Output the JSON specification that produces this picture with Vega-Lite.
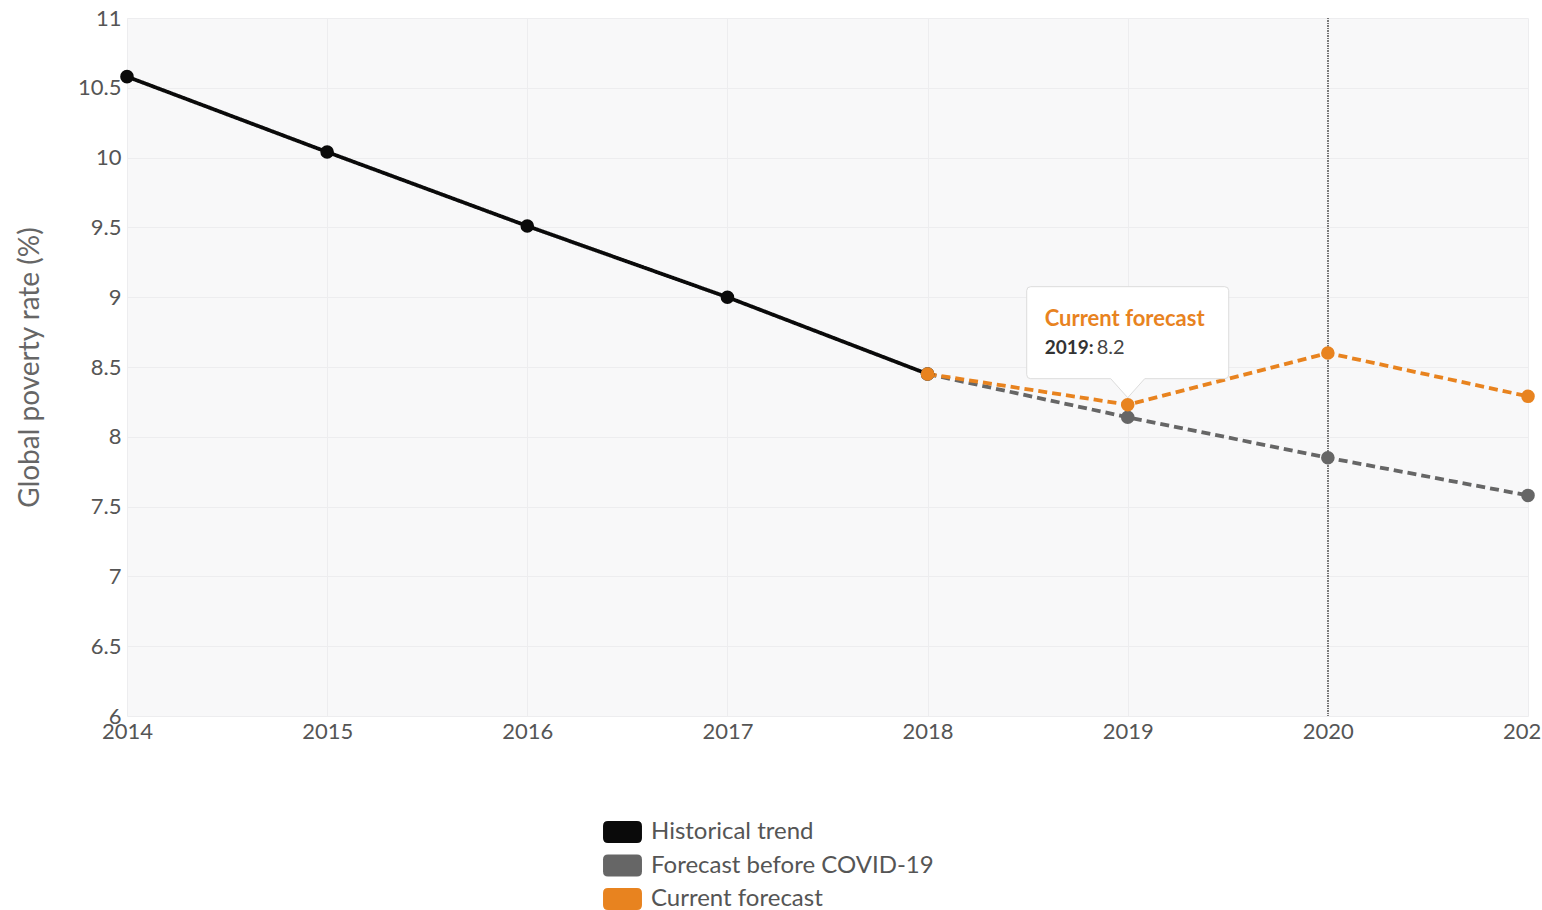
{
  "$schema": "https://vega.github.io/schema/vega-lite/v6.json",
  "width": 1401,
  "height": 698,
  "autosize": {"type": "none"},
  "padding": {"left": 127, "top": 18, "right": 14, "bottom": 194},
  "background": "white",
  "config": {"font": "Lato", "view": {"fill": "#f8f8f9", "stroke": null}},
  "data": {
    "values": [
      {"series": "Historical trend", "year": 2014, "value": 10.58},
      {"series": "Historical trend", "year": 2015, "value": 10.04},
      {"series": "Historical trend", "year": 2016, "value": 9.51},
      {"series": "Historical trend", "year": 2017, "value": 9.0},
      {"series": "Historical trend", "year": 2018, "value": 8.45},
      {"series": "Forecast before COVID-19", "year": 2018, "value": 8.45},
      {"series": "Forecast before COVID-19", "year": 2019, "value": 8.14},
      {"series": "Forecast before COVID-19", "year": 2020, "value": 7.85},
      {"series": "Forecast before COVID-19", "year": 2021, "value": 7.58},
      {"series": "Current forecast", "year": 2018, "value": 8.45},
      {"series": "Current forecast", "year": 2019, "value": 8.23},
      {"series": "Current forecast", "year": 2020, "value": 8.6},
      {"series": "Current forecast", "year": 2021, "value": 8.29}
    ]
  },
  "layer": [
    {
      "mark": {"type": "line", "strokeWidth": 3.8},
      "encoding": {
        "x": {
          "field": "year", "type": "quantitative",
          "scale": {"domain": [2014, 2021], "nice": false, "zero": false},
          "axis": {
            "values": [2014, 2015, 2016, 2017, 2018, 2019, 2020, 2021],
            "format": "d", "title": null, "domain": false, "ticks": false,
            "labelFontSize": 22, "labelColor": "#555555", "labelPadding": 5,
            "labelFlush": false, "gridColor": "#ededef"
          }
        },
        "y": {
          "field": "value", "type": "quantitative",
          "scale": {"domain": [6, 11], "nice": false, "zero": false},
          "axis": {
            "values": [6, 6.5, 7, 7.5, 8, 8.5, 9, 9.5, 10, 10.5, 11],
            "format": "~g", "title": "Global poverty rate (%)",
            "titleFontSize": 28, "titleFontWeight": "normal", "titleColor": "#666666",
            "titlePadding": 33, "domain": false, "ticks": false,
            "labelFontSize": 22, "labelColor": "#555555", "labelPadding": 6,
            "labelFlush": false, "gridColor": "#ededef"
          }
        },
        "color": {
          "field": "series", "type": "nominal",
          "scale": {
            "domain": ["Historical trend", "Forecast before COVID-19", "Current forecast"],
            "range": ["#0a0a0a", "#666666", "#e8831f"]
          },
          "legend": {
            "orient": "none", "legendX": 483.5, "legendY": 802,
            "direction": "vertical", "title": null,
            "symbolType": "M-1.32,-1 L1.32,-1 Q1.77,-1 1.77,-0.55 L1.77,0.55 Q1.77,1 1.32,1 L-1.32,1 Q-1.77,1 -1.77,0.55 L-1.77,-0.55 Q-1.77,-1 -1.32,-1 Z",
            "symbolSize": 484, "symbolStrokeWidth": 0,
            "labelFontSize": 24, "labelColor": "#555555", "labelOffset": 16.5,
            "labelLimit": 600, "rowPadding": 9.5, "padding": 0, "symbolOffset": 0,
            "encode": {
              "symbols": {
                "update": {
                  "fill": {"scale": "color", "field": "value"},
                  "stroke": {"value": "transparent"},
                  "opacity": {"value": 1}
                }
              }
            }
          }
        },
        "strokeDash": {
          "field": "series", "type": "nominal",
          "scale": {
            "domain": ["Historical trend", "Forecast before COVID-19", "Current forecast"],
            "range": [[1, 0], [9, 5], [9, 5]]
          },
          "legend": null
        }
      }
    },
    {
      "mark": {"type": "rule", "color": "#777777", "strokeWidth": 1, "strokeDash": [1, 1.5]},
      "encoding": {"x": {"datum": 2020}}
    },
    {
      "mark": {"type": "point", "filled": true, "size": 185, "opacity": 1},
      "encoding": {
        "x": {"field": "year", "type": "quantitative"},
        "y": {"field": "value", "type": "quantitative"},
        "color": {"field": "series", "type": "nominal"}
      }
    },
    {
      "transform": [{"filter": "datum.series === 'Current forecast' && datum.year === 2019"}],
      "mark": {
        "type": "point", "filled": true, "fill": "white", "stroke": "#dcdcdc",
        "strokeWidth": 1, "opacity": 1, "size": 40000,
        "shape": "M-0.97,-1.18 L0.97,-1.18 Q1.01,-1.18 1.01,-1.14 L1.01,-0.30 Q1.01,-0.26 0.97,-0.26 L0.17,-0.26 L0,-0.07 L-0.17,-0.26 L-0.97,-0.26 Q-1.01,-0.26 -1.01,-0.30 L-1.01,-1.14 Q-1.01,-1.18 -0.97,-1.18 Z"
      },
      "encoding": {
        "x": {"field": "year", "type": "quantitative"},
        "y": {"field": "value", "type": "quantitative"}
      }
    },
    {
      "transform": [{"filter": "datum.series === 'Current forecast' && datum.year === 2019"}],
      "mark": {
        "type": "text", "align": "left", "baseline": "middle", "dx": -83, "dy": -86,
        "fontSize": 22, "fontWeight": "bold", "color": "#e8831f"
      },
      "encoding": {
        "x": {"field": "year", "type": "quantitative"},
        "y": {"field": "value", "type": "quantitative"},
        "text": {"field": "series", "type": "nominal"}
      }
    },
    {
      "transform": [
        {"filter": "datum.series === 'Current forecast' && datum.year === 2019"},
        {"calculate": "datum.year + ':'", "as": "yearLabel"}
      ],
      "mark": {
        "type": "text", "align": "left", "baseline": "middle", "dx": -83, "dy": -57,
        "fontSize": 19, "fontWeight": "bold", "color": "#333333"
      },
      "encoding": {
        "x": {"field": "year", "type": "quantitative"},
        "y": {"field": "value", "type": "quantitative"},
        "text": {"field": "yearLabel", "type": "nominal"}
      }
    },
    {
      "transform": [{"filter": "datum.series === 'Current forecast' && datum.year === 2019"}],
      "mark": {
        "type": "text", "align": "left", "baseline": "middle", "dx": -31, "dy": -57,
        "fontSize": 20, "color": "#444444"
      },
      "encoding": {
        "x": {"field": "year", "type": "quantitative"},
        "y": {"field": "value", "type": "quantitative"},
        "text": {"field": "value", "type": "quantitative", "format": ".1f"}
      }
    }
  ]
}
